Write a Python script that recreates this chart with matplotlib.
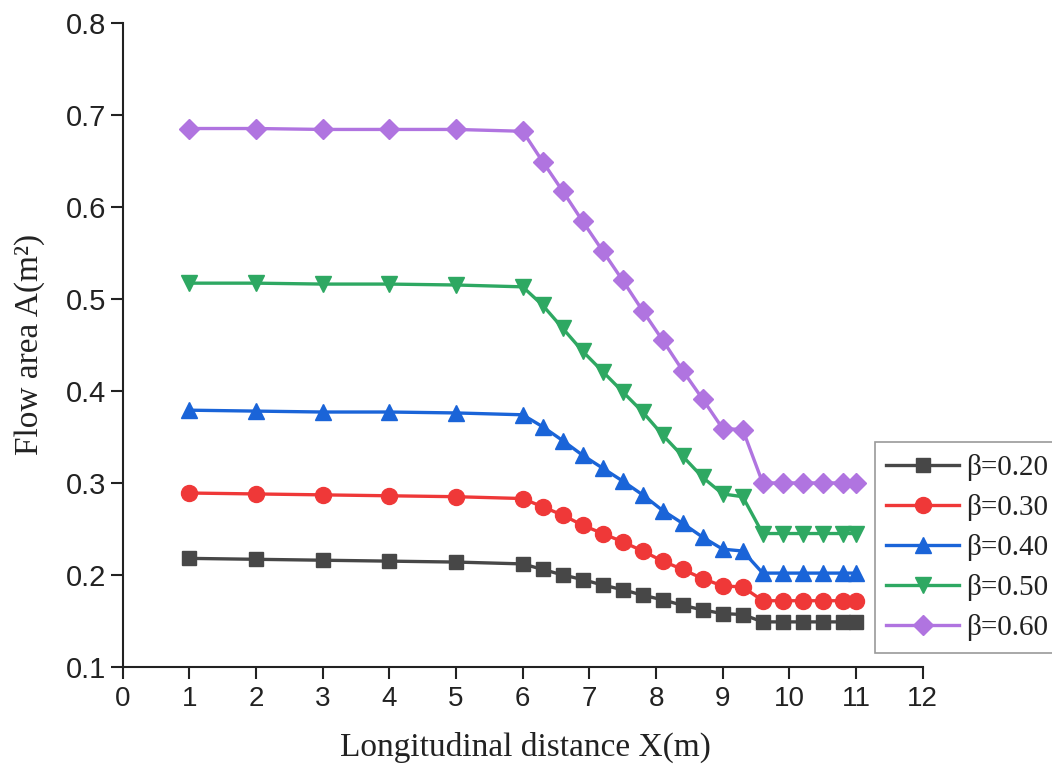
import numpy as np
import matplotlib
matplotlib.use('Agg')
import matplotlib.pyplot as plt

# longitudinal stations (m)
x = [1, 2, 3, 4, 5, 6, 6.3, 6.6, 6.9, 7.2, 7.5, 7.8, 8.1, 8.4, 8.7,
     9.0, 9.3, 9.6, 9.9, 10.2, 10.5, 10.8, 11]

# flow area for each beta
area_020 = [0.218, 0.217, 0.216, 0.215, 0.214, 0.212, 0.206, 0.200, 0.195,
            0.189, 0.184, 0.178, 0.173, 0.167, 0.162, 0.158, 0.157, 0.149,
            0.149, 0.149, 0.149, 0.149, 0.149]
area_030 = [0.289, 0.288, 0.287, 0.286, 0.285, 0.283, 0.274, 0.265, 0.254,
            0.245, 0.236, 0.226, 0.215, 0.206, 0.196, 0.188, 0.187, 0.172,
            0.172, 0.172, 0.172, 0.172, 0.172]
area_040 = [0.379, 0.378, 0.377, 0.377, 0.376, 0.374, 0.361, 0.346, 0.330,
            0.316, 0.302, 0.287, 0.270, 0.256, 0.241, 0.228, 0.226, 0.202,
            0.202, 0.202, 0.202, 0.202, 0.202]
area_050 = [0.517, 0.517, 0.516, 0.516, 0.515, 0.513, 0.493, 0.468, 0.443,
            0.421, 0.399, 0.377, 0.352, 0.329, 0.306, 0.288, 0.285, 0.245,
            0.245, 0.245, 0.245, 0.245, 0.245]
area_060 = [0.685, 0.685, 0.684, 0.684, 0.684, 0.682, 0.649, 0.617, 0.584,
            0.552, 0.520, 0.487, 0.455, 0.422, 0.391, 0.359, 0.358, 0.300,
            0.300, 0.300, 0.300, 0.300, 0.300]

labels = ['β=0.20', 'β=0.30', 'β=0.40', 'β=0.50', 'β=0.60']
colors = ['#474747', '#ef3838', '#1a64d8', '#2ea862', '#b074e0']
markers = ['s', 'o', '^', 'v', 'D']
msizes = [10.5, 11.5, 12, 12, 10.5]


def main():
    plt.rcParams['font.family'] = 'Liberation Sans'

    fig = plt.figure(figsize=(10.52, 7.71), dpi=100)
    ax = fig.add_axes([0.1166, 0.1349, 0.7605, 0.8357])

    series = [area_020, area_030, area_040, area_050, area_060]
    for y, lab, c, m, ms in zip(series, labels, colors, markers, msizes):
        ax.plot(x, y, color=c, marker=m, markersize=ms, linewidth=2.4,
                label=lab)

    ax.set_xlim(0, 12)
    ax.set_ylim(0.1, 0.8)
    xt = np.arange(0, 13, 1)
    yt = np.arange(0.1, 0.81, 0.1)
    ax.set_xticks(xt)
    ax.set_xticklabels([str(v) for v in xt], family='Liberation Sans',
                       fontsize=20)
    ax.set_yticks(yt)
    ax.set_yticklabels(['%.1f' % v for v in yt], family='Liberation Sans',
                       fontsize=21)

    for side in ['top', 'right']:
        ax.spines[side].set_visible(False)
    for side in ['left', 'bottom']:
        ax.spines[side].set_linewidth(1.5)
        ax.spines[side].set_color('#222222')

    ax.tick_params(direction='out', length=8.6, width=1.5, color='#222222',
                   labelcolor='#222222')
    ax.tick_params(axis='y', pad=3)
    ax.tick_params(axis='x', pad=5)

    ax.set_xlabel('Longitudinal distance X(m)', family='Liberation Serif',
                  fontsize=24, color='#222222')
    ax.set_ylabel('Flow area A(m²)', family='Liberation Serif',
                  fontsize=24, color='#222222')
    ax.xaxis.set_label_coords(0.504, -0.100)
    ax.yaxis.set_label_coords(-0.097, 0.5)

    leg = ax.legend(loc='upper left', bbox_to_anchor=(0.94, 0.349),
                    borderaxespad=0, frameon=True, fancybox=False,
                    edgecolor='#9a9a9a', framealpha=1,
                    prop={'family': 'Liberation Serif', 'size': 21},
                    handlelength=2.5, handletextpad=0.25, labelspacing=0.45,
                    borderpad=0.4)
    leg.get_frame().set_linewidth(1.2)
    for t in leg.get_texts():
        t.set_color('#222222')

    fig.savefig('out.png', dpi=100)


if __name__ == '__main__':
    main()
